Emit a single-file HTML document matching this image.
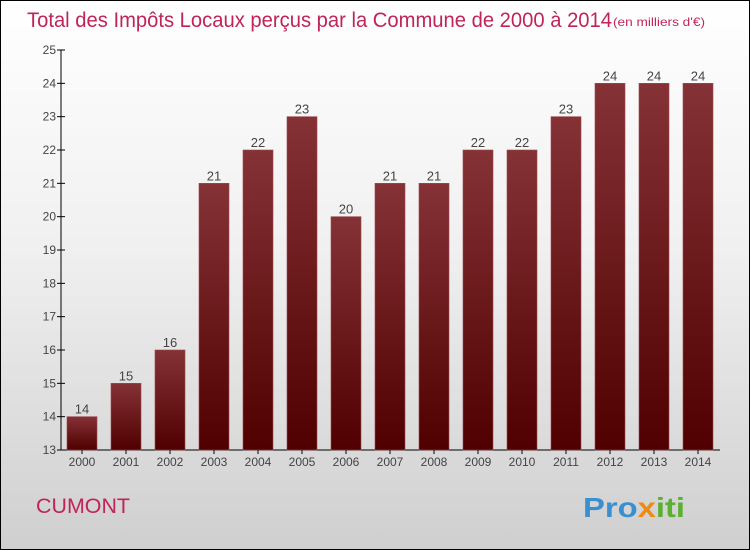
<!DOCTYPE html>
<html><head><meta charset="utf-8"><style>
body{margin:0}
#c{width:750px;height:550px;position:relative;overflow:hidden;font-family:"Liberation Sans",sans-serif}
</style></head><body>
<div id="c">
<svg width="750" height="550">
<defs>
<linearGradient id="bg" x1="0" y1="0" x2="0" y2="1"><stop offset="0" stop-color="#ffffff"/><stop offset="0.45" stop-color="#f0f0f0"/><stop offset="1" stop-color="#cfcfcf"/></linearGradient>
<linearGradient id="bar" x1="0" y1="0" x2="0" y2="1"><stop offset="0" stop-color="#853236"/><stop offset="1" stop-color="#500000"/></linearGradient>
</defs>
<rect x="0.5" y="0.5" width="749" height="549" fill="url(#bg)" stroke="#000"/>
<text x="27" y="27" font-size="21" fill="#c0245a" textLength="585" lengthAdjust="spacingAndGlyphs">Total des Impôts Locaux perçus par la Commune de 2000 à 2014</text>
<text x="613" y="26" font-size="12" fill="#c0245a" textLength="92" lengthAdjust="spacingAndGlyphs">(en milliers d'€)</text>
<g id="axes"></g>
<g id="bars"></g>
<text x="36" y="513" font-size="21" fill="#c0245a" textLength="94" lengthAdjust="spacingAndGlyphs">CUMONT</text>
<text x="583" y="517" font-size="28" font-weight="bold" textLength="102" lengthAdjust="spacingAndGlyphs"><tspan fill="#3a8fd0">Pro</tspan><tspan fill="#f08a10">x</tspan><tspan fill="#5cb030">iti</tspan></text>
</svg>
</div>
<script>
const categories=["2000","2001","2002","2003","2004","2005","2006","2007","2008","2009","2010","2011","2012","2013","2014"];
const values=[14,15,16,21,22,23,20,21,21,22,22,23,24,24,24];
const yTicks=[13,14,15,16,17,18,19,20,21,22,23,24,25];
const NS="http://www.w3.org/2000/svg";
const x0=61,x1=720,yTop=50,yBot=450,yMin=13,yMax=25;
const y=v=>yBot-(v-yMin)/(yMax-yMin)*(yBot-yTop);
const step=44,first=82;
const xc=i=>first+i*step;
function mk(t,a,p){const e=document.createElementNS(NS,t);for(const k in a)e.setAttribute(k,a[k]);p.appendChild(e);return e;}
const ax=document.getElementById('axes'),bg=document.getElementById('bars');
let l=mk('line',{x1:x0,y1:yTop,x2:x0,y2:yBot,stroke:'#000'},ax);


l=mk('line',{x1:x0,y1:yBot,x2:x1,y2:yBot,stroke:'#000'},ax);


yTicks.forEach(t=>{
 const tk=mk('line',{x1:x0-4,y1:y(t),x2:x0+4,y2:y(t),stroke:'#000'},ax);
 
 
 const tx=mk('text',{x:x0-5,y:y(t)+4,'text-anchor':'end','font-size':12,fill:'#444'},ax);
 tx.textContent=t;
 
 
});
categories.forEach((c,i)=>{
 const v=values[i];
 const r=mk('rect',{x:xc(i)-15,y:y(v),width:30,height:yBot-y(v),fill:'url(#bar)',stroke:'#9a4a4e','stroke-width':0.6},bg);
 
 
 const vl=mk('text',{x:xc(i),y:y(v)-3,'text-anchor':'middle','font-size':13,fill:'#444'},bg);
 vl.textContent=v;
 
 
 const tk=mk('line',{x1:xc(i),y1:yBot,x2:xc(i),y2:yBot+4,stroke:'#000'},ax);
 
 
 const xl=mk('text',{x:xc(i),y:yBot+16,'text-anchor':'middle','font-size':12,fill:'#444'},ax);
 xl.textContent=c;
 
 
});
</script>
</body></html>
